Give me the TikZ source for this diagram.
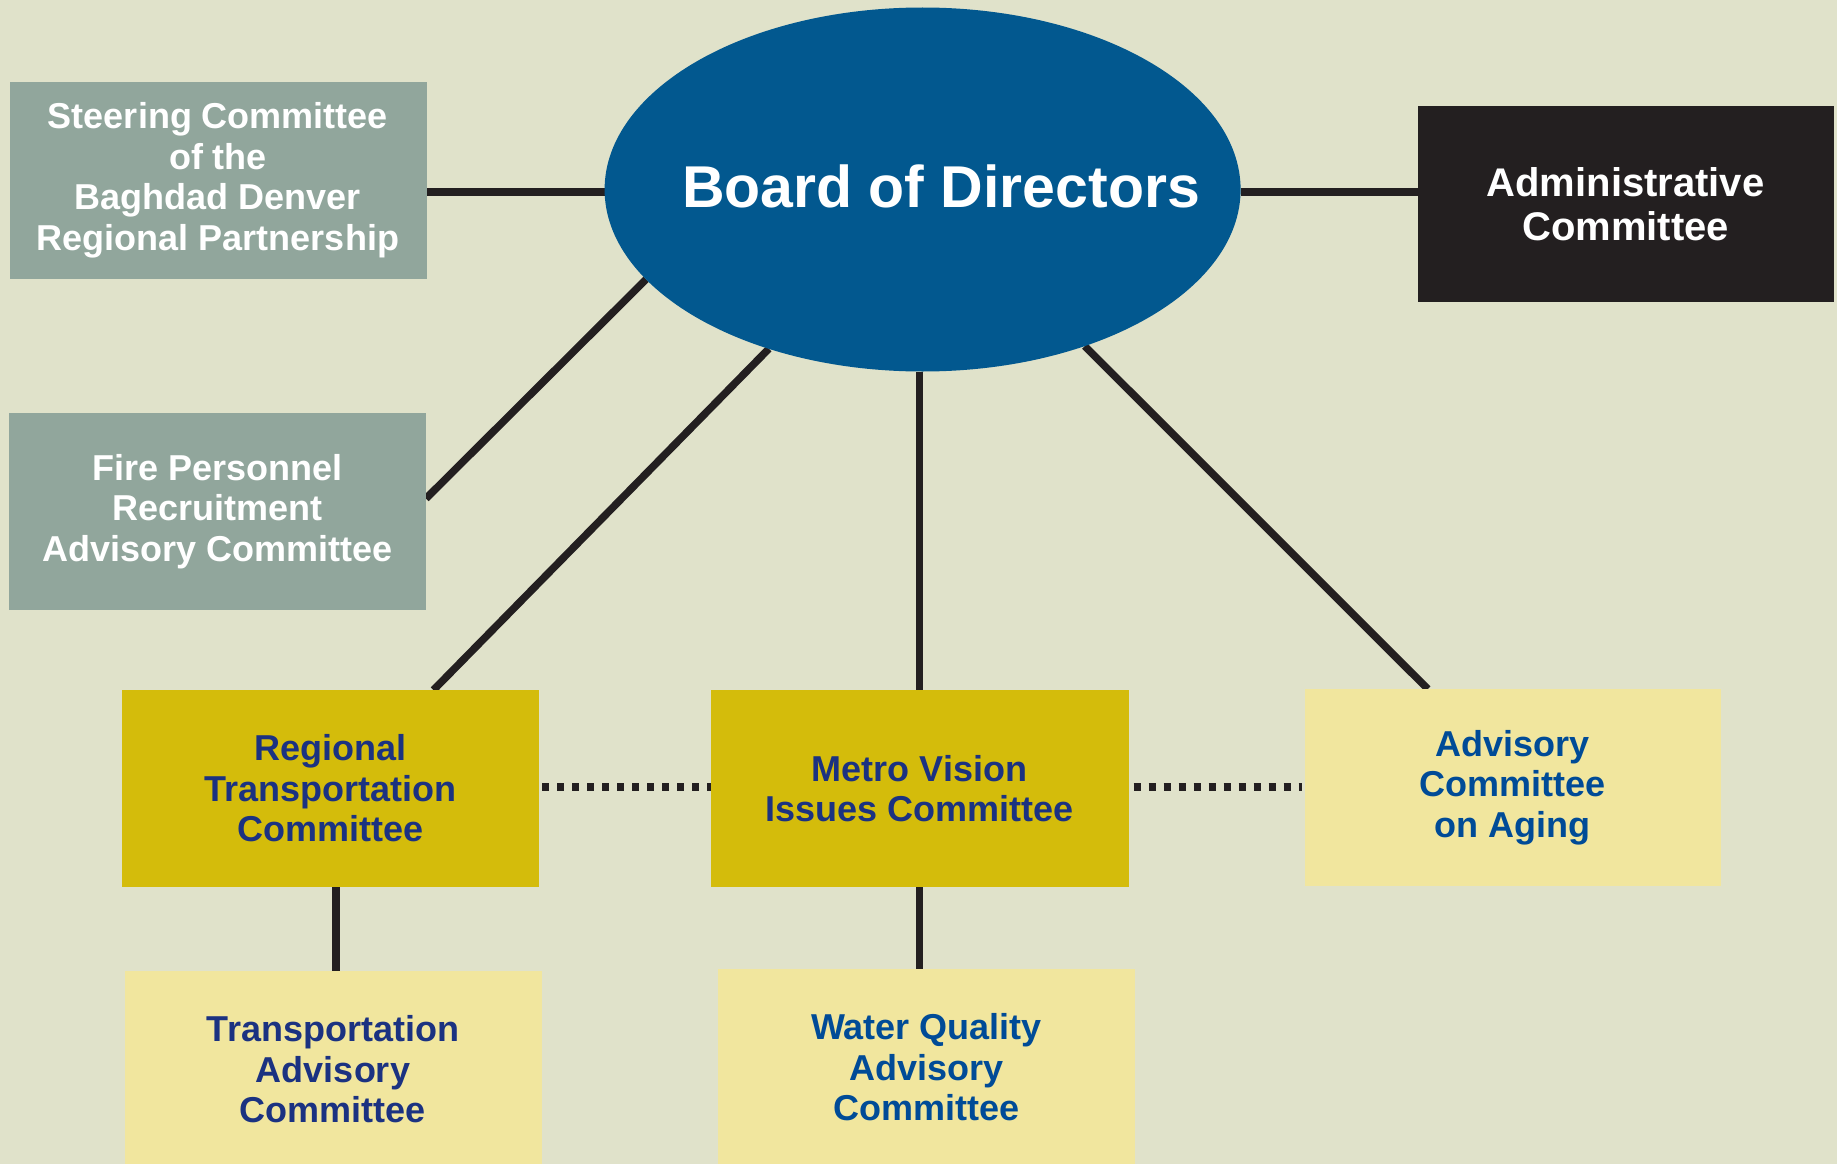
\documentclass[tikz,border=0pt]{standalone}
\usepackage{fontspec}
\setmainfont{Liberation Sans}
\usetikzlibrary{shapes.geometric}
\pgfdeclarelayer{bglayer}
\pgfdeclarelayer{linelayer}
\pgfsetlayers{bglayer,linelayer,main}
\definecolor{cbg}{HTML}{E0E2CA}
\definecolor{cgrey}{HTML}{91A69C}
\definecolor{cgold}{HTML}{D4BC0B}
\definecolor{cpale}{HTML}{F1E69E}
\definecolor{cell}{HTML}{02588F}
\definecolor{cblack}{HTML}{231F20}
\definecolor{cnavy}{HTML}{1B3281}
\definecolor{cbluetxt}{HTML}{004B97}
\begin{document}
\begin{tikzpicture}[x=1pt,y=-1pt,
  box/.style={rectangle, inner sep=0pt, outer sep=0pt, minimum width=417pt, minimum height=197pt, align=center, font=\fontsize{36pt}{40.5pt}\selectfont\bfseries},
  greybox/.style={box, fill=cgrey, text=white},
  goldbox/.style={box, fill=cgold, text=cnavy},
  palebox/.style={box, fill=cpale},
  link/.style={draw=cblack, line width=7.5pt},
  dotlink/.style={link, dash pattern=on 7pt off 8pt},
]
\useasboundingbox (0,0) rectangle (1837,1164);
\begin{pgfonlayer}{bglayer}
  \fill[cbg] (0,0) rectangle (1837,1164);
\end{pgfonlayer}

\node[ellipse, fill=cell, minimum width=636pt, minimum height=364pt, inner sep=0pt, outer sep=0pt] (board) at (922.6,189.5) {};
\node[text=white, inner sep=0pt, font=\fontsize{59pt}{66pt}\selectfont\bfseries] (boardtxt) at (941,186.5) {Board of Directors};

\node[greybox] (steer) at (218,180.5) {Steering Committee\\of the\\Baghdad Denver\\Regional Partnership};
\node[greybox] (fire) at (217.5,511.5) {Fire Personnel\\Recruitment\\Advisory Committee};
\node[box, fill=cblack, text=white, minimum width=416pt, minimum height=196pt, font=\fontsize{40pt}{44.5pt}\selectfont\bfseries] (admin) at (1625.5,204.4) {Administrative\\Committee};

\node[goldbox] (regional) at (330.8,788.5) {Regional\\Transportation\\Committee};
\node[goldbox, minimum width=418pt] (metro) at (919.5,788.5) {Metro Vision\\Issues Committee};
\node[palebox, text=cbluetxt, minimum width=416pt] (aging) at (1512.8,787.5) {Advisory\\Committee\\on Aging};

\node[palebox, text=cnavy] (transport) at (333,1069.5) {Transportation\\Advisory\\Committee};
\node[palebox, text=cbluetxt] (water) at (926.4,1067.5) {Water Quality\\Advisory\\Committee};

\begin{pgfonlayer}{linelayer}
  \draw[link] ([yshift=-2.5pt]board.west) -- ([yshift=-2.5pt]steer.east |- board.west);
  \draw[link] ([yshift=-2.5pt]board.east) -- ([yshift=-2.5pt]admin.west |- board.east);
  \draw[link] ([yshift=13pt]fire.east) -- (board.198);
  \draw[link] ([xshift=102.7pt]regional.north) -- (board.226);
  \draw[link] (metro.north) -- (metro.north |- board.south);
  \draw[link] ([xshift=-85pt]aging.north) -- (board.316);
  \draw[link] ([xshift=5pt]regional.south) -- ([xshift=5pt]regional.south |- transport.north);
  \draw[link] (metro.south) -- (metro.south |- water.north);
  \draw[dotlink] ([xshift=3pt,yshift=1.5pt]regional.east) -- ([yshift=1.5pt]metro.west);
  \draw[dotlink] ([xshift=5pt,yshift=1.5pt]metro.east) -- ([xshift=-3pt,yshift=1.5pt]metro.east -| aging.west);
\end{pgfonlayer}
\end{tikzpicture}
\end{document}
